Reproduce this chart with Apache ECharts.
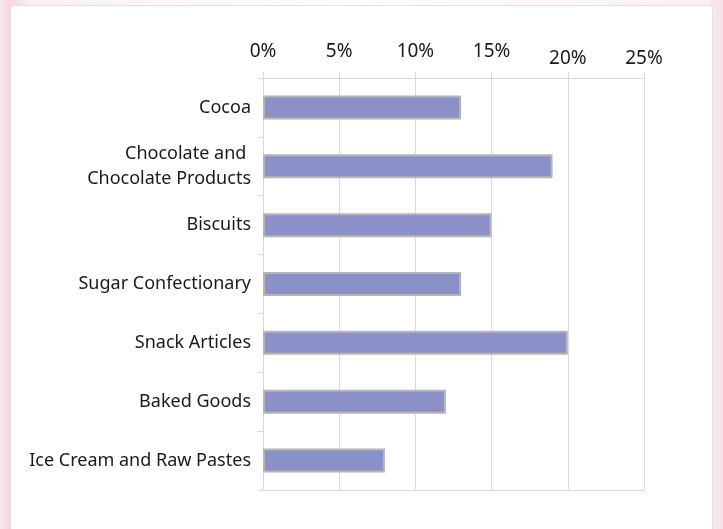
<!DOCTYPE html>
<html>
<head>
<meta charset="utf-8">
<script src="https://cdn.jsdelivr.net/npm/echarts@6/dist/echarts.min.js"></script>
<style>
html,body{margin:0;padding:0;}
body{width:723px;height:529px;background:linear-gradient(90deg,#f6e6ec 0%,#f1d6e2 1.5%,#faf0f4 4%,#ffffff 50%,#fbeff3 97%,#f5e2ea 100%);}
#panel{position:absolute;left:10px;top:5px;width:703px;height:530px;background:#fff;border:1px solid #e2e2e2;border-radius:4px;box-sizing:border-box;}
#chart{position:absolute;left:0;top:0;width:723px;height:529px;}
</style>
</head>
<body>
<div id="panel"></div>
<div id="chart"></div>
<script>
const categories = ["Cocoa", "Chocolate and \nChocolate Products", "Biscuits", "Sugar Confectionary", "Snack Articles", "Baked Goods", "Ice Cream and Raw Pastes"];
const values = [0.13, 0.19, 0.15, 0.13, 0.20, 0.12, 0.08];
const tickLabels = ["0%", "5%", "10%", "15%", "20%", "25%"];

const chart = echarts.init(document.getElementById('chart'));
const font = '"Noto Sans", sans-serif';
chart.setOption({
  backgroundColor: 'transparent',
  animation: false,
  grid: {left: 263, right: 79, top: 78, bottom: 39},
  xAxis: [{
    type: 'value', position: 'top', min: 0, max: 0.25, interval: 0.05,
    axisLine: {show: true, lineStyle: {color: '#d9d9d9', width: 1}},
    axisTick: {show: true, length: 6, lineStyle: {color: '#d9d9d9'}},
    splitLine: {show: true, lineStyle: {color: '#d9d9d9', width: 1}},
    axisLabel: {
      margin: 10,
      formatter: function (v) {
        const i = Math.round(v / 0.05);
        const t = tickLabels[i];
        return i >= 4 ? '{b|' + t + '}' : '{a|' + t + '}';
      },
      rich: {
        a: {fontFamily: font, fontSize: 19, color: '#1a1a1a', padding: [0, 0, 7, 0]},
        b: {fontFamily: font, fontSize: 19, color: '#1a1a1a', padding: [0, 0, 0, 0]}
      }
    }
  }, {
    type: 'value', position: 'bottom', min: 0, max: 0.25, interval: 0.05,
    axisLine: {show: true, lineStyle: {color: '#d9d9d9', width: 1}},
    axisTick: {show: false},
    splitLine: {show: false},
    axisLabel: {show: false}
  }],
  yAxis: {
    type: 'category', inverse: true, data: categories,
    axisLine: {show: true, lineStyle: {color: '#d9d9d9', width: 1}},
    axisTick: {show: true, length: 5, lineStyle: {color: '#d9d9d9'}},
    axisLabel: {fontFamily: font, fontSize: 18, color: '#1a1a1a', margin: 12, lineHeight: 25, align: 'right'}
  },
  series: [{
    type: 'bar', data: values, barWidth: 24, xAxisIndex: 0,
    itemStyle: {color: '#8b90c8', borderColor: '#b5b5b5', borderWidth: 2}
  }]
});
</script>
</body>
</html>
